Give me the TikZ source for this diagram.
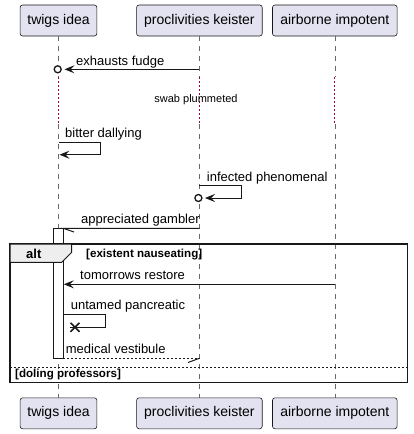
\documentclass[tikz,border=0pt]{standalone}
\usepackage{fontspec}
\setmainfont{Liberation Sans}
\usetikzlibrary{arrows.meta,calc}
\definecolor{ln}{HTML}{181818}
\definecolor{pfill}{HTML}{E2E2F0}
\definecolor{tabfill}{HTML}{EEEEEE}
\definecolor{delayc}{HTML}{A80036}
\tikzset{
  part/.style={draw=ln, fill=pfill, rounded corners=2.5pt, line width=0.6pt, inner sep=0pt,
    minimum height=31pt, font=\fontsize{14}{16}\selectfont, text=black},
  life/.style={draw=ln!65, line width=0.5pt, dash pattern=on 5pt off 5pt},
  delayline/.style={draw=delayc, line width=1pt, dash pattern=on 1.5pt off 2.5pt},
  msg/.style={draw=ln, line width=1pt},
  dmsg/.style={draw=ln, line width=1pt, dash pattern=on 2pt off 2pt},
  tip/.style={-{Stealth[length=10pt,width=8pt,inset=4pt]}},
  lbl/.style={anchor=base west, inner sep=0pt, font=\fontsize{13}{15}\selectfont},
  small/.style={anchor=base, inner sep=0pt, font=\fontsize{11}{13}\selectfont},
  guard/.style={anchor=base west, inner sep=0pt, font=\fontsize{11.6}{13}\selectfont\bfseries},
  altlbl/.style={anchor=base west, inner sep=0pt, font=\fontsize{13}{15}\selectfont\bfseries},
  lostc/.style={circle, draw=ln, line width=1.3pt, fill=white, minimum size=7pt, inner sep=0pt},
  actbox/.style={draw=ln, fill=white, line width=1pt, inner sep=0pt},
  frm/.style={draw=ln, line width=1.5pt},
  tabst/.style={draw=ln, fill=tabfill, line width=1pt},
  sep/.style={draw=ln, line width=1pt, dash pattern=on 2pt off 2pt},
  xmark/.style={draw=ln, line width=1.5pt}
}
\begin{document}
\begin{tikzpicture}[x=1pt,y=-1pt]
\useasboundingbox (0,0) rectangle (413,434);
% participants
\node[part, minimum width=76.7pt]  (pa) at (58.5,20.5) {twigs idea};
\node[part, minimum width=125.6pt] (pb) at (199.4,20.5) {proclivities keister};
\node[part, minimum width=124.6pt] (pc) at (334.8,20.5) {airborne impotent};
\node[part, minimum width=76.7pt]  (qa) at (58.5,413.3) {twigs idea};
\node[part, minimum width=125.6pt] (qb) at (199.4,413.3) {proclivities keister};
\node[part, minimum width=124.6pt] (qc) at (334.8,413.3) {airborne impotent};
% lifelines with delay
\coordinate (a1) at (58.5,77);  \coordinate (a2) at (58.5,124);
\coordinate (b1) at (199.4,77); \coordinate (b2) at (199.4,124);
\coordinate (c1) at (334.8,77); \coordinate (c2) at (334.8,124);
\draw[life] (pa.south) -- (a1);
\draw[delayline] (a1) -- (a2);
\draw[life] (a2) -- (qa.north);
\draw[life] (pb.south) -- (b1);
\draw[delayline] (b1) -- (b2);
\draw[life] (b2) -- (qb.north);
\draw[life] (pc.south) -- (c1);
\draw[delayline] (c1) -- (c2);
\draw[life] (c2) -- (qc.north);
\node[small] (delaytxt) at (196,102.5) {swab plummeted};
% activation
\node[actbox, minimum width=9.8pt, minimum height=130pt] (act) at (58.4,293.3) {};
% alt frame
\draw[frm] (10,244) rectangle (407.3,382.3);
\draw[tabst] (10,244) -- (71.7,244) -- (71.7,252.3) -- (61.7,262.3) -- (10,262.3) -- cycle;
\node[altlbl] (altt) at (26,258) {alt};
\node[guard] (g1) at (86,257.3) {[existent nauseating]};
\draw[sep] (10,367) -- (407.3,367);
\node[guard] (g2) at (15,377.8) {[doling professors]};
% exhausts fudge
\coordinate (m1s) at (199.4,69.3);
\coordinate (m1e) at (64.5,69.3);
\draw[msg,tip] (m1s) -- (m1e);
\node[lostc] (m1c) at (57.7,69.3) {};
\node[lbl] (m1t) at (76,65) {exhausts fudge};
% bitter dallying
\coordinate (m2s) at (58.5,142.3);
\coordinate (m2a) at (100.3,142.3);
\coordinate (m2b) at (100.3,154.7);
\coordinate (m2e) at (59.5,154.7);
\draw[msg,tip] (m2s) -- (m2a) -- (m2b) -- (m2e);
\node[lbl] (m2t) at (65,137.5) {bitter dallying};
% infected phenomenal
\coordinate (m3s) at (199.4,185.7);
\coordinate (m3a) at (241.7,185.7);
\coordinate (m3b) at (241.7,198);
\coordinate (m3e) at (205,198);
\draw[msg,tip] (m3s) -- (m3a) -- (m3b) -- (m3e);
\node[lostc] (m3c) at (198.4,198) {};
\node[lbl] (m3t) at (206.7,181) {infected phenomenal};
% appreciated gambler
\coordinate (m4s) at (199.4,228.3);
\coordinate (m4e) at (63.3,228.3);
\coordinate (m4b) at (74,232);
\draw[msg] (m4s) -- (m4e) -- (m4b);
\node[lbl] (m4t) at (81,223.5) {appreciated gambler};
% tomorrows restore
\coordinate (m5s) at (334.8,284.3);
\coordinate (m5e) at (63.8,284.3);
\draw[msg,tip] (m5s) -- (m5e);
\node[lbl] (m5t) at (80,279.5) {tomorrows restore};
% untamed pancreatic
\coordinate (m6s) at (63.3,314.3);
\coordinate (m6a) at (105.3,314.3);
\coordinate (m6b) at (105.3,327.3);
\coordinate (m6e) at (70,327.3);
\draw[msg] (m6s) -- (m6a) -- (m6b) -- (m6e);
\coordinate (xc) at (75,327.3);
\draw[xmark] ($(xc)+(-4.5,-4.5)$) -- ($(xc)+(4.5,4.5)$);
\draw[xmark] ($(xc)+(-4.5,4.5)$) -- ($(xc)+(4.5,-4.5)$);
\node[lbl] (m6t) at (70.7,309.5) {untamed pancreatic};
% medical vestibule
\coordinate (m7s) at (63.3,358.3);
\coordinate (m7e) at (199.4,358.3);
\coordinate (m7b) at (188,362.5);
\draw[dmsg] (m7s) -- (m7e);
\draw[msg] (m7e) -- (m7b);
\node[lbl] (m7t) at (65.7,353.5) {medical vestibule};
\end{tikzpicture}
\end{document}
